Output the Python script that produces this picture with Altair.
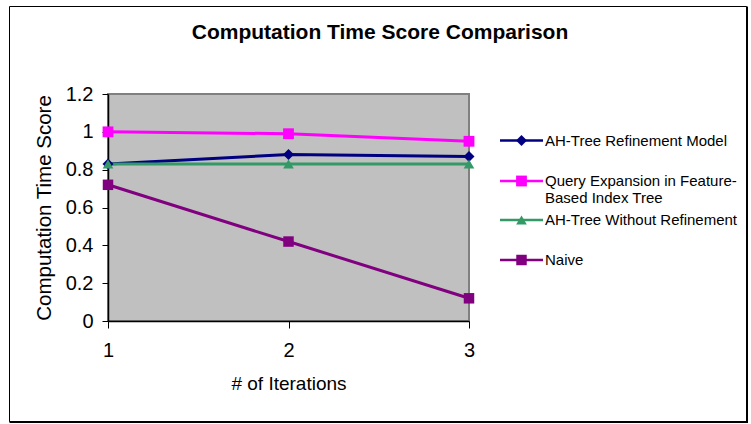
import altair as alt
import pandas as pd

# Data
iterations = [1, 2, 3]
series = [
    "AH-Tree Refinement Model",
    "Query Expansion in Feature-Based Index Tree",
    "AH-Tree Without Refinement",
    "Naive",
]
refinement_model = [0.83, 0.88, 0.87]
query_expansion = [1.00, 0.99, 0.95]
without_refinement = [0.83, 0.83, 0.83]
naive = [0.72, 0.42, 0.12]
legend_labels = [
    ["AH-Tree Refinement Model"],
    ["Query Expansion in Feature-", "Based Index Tree"],
    ["AH-Tree Without Refinement"],
    ["Naive"],
]
y_ticks = [0, 0.2, 0.4, 0.6, 0.8, 1.0, 1.2]

colors = ["#000080", "#FF00FF", "#339966", "#800080"]
shapes = ["diamond", "square", "triangle-up", "square"]
sizes = [120, 110, 150, 260]
FONT = "Liberation Sans"

W, H = 361, 227
PAD = {"left": 108, "top": 94, "right": 751 - 108 - W, "bottom": 424 - 94 - H}

rows = []
for name, vals in zip(series, [refinement_model, query_expansion, without_refinement, naive]):
    for it, v in zip(iterations, vals):
        rows.append({"series": name, "iteration": it, "score": v})
df = pd.DataFrame(rows)

color_scale = alt.Scale(domain=series, range=colors)
shape_scale = alt.Scale(domain=series, range=shapes)
size_scale = alt.Scale(domain=series, range=sizes)

# Iterations sit on a point scale: first and last category on the plot edges
x_enc = alt.X(
    "iteration:O",
    scale=alt.Scale(type="point", domain=iterations, padding=0),
    axis=alt.Axis(
        title="# of Iterations", labelAngle=0,
        titleX=W / 2, titleY=62, titleBaseline="middle", titleFontSize=19,
        labelPadding=12, tickSize=7, labelOverlap=False, labelFlush=False,
    ),
)
y_enc = alt.Y(
    "score:Q",
    scale=alt.Scale(domain=[0, 1.2], nice=False),
    axis=alt.Axis(
        values=y_ticks, format="~g", title="Computation Time Score",
        titleX=-64, titleY=H / 2, titleAngle=-90, titleAlign="center",
        titleBaseline="middle", titleFontSize=20.5,
        labelPadding=9, tickSize=6, labelOverlap=False, labelFlush=False,
    ),
)

lines = alt.Chart(df).mark_line(strokeWidth=3).encode(
    x=x_enc, y=y_enc,
    color=alt.Color("series:N", scale=color_scale, legend=None),
    detail="series:N",
)
points = alt.Chart(df).mark_point(filled=True, opacity=1).encode(
    x=x_enc, y=y_enc,
    color=alt.Color("series:N", scale=color_scale, legend=None),
    shape=alt.Shape("series:N", scale=shape_scale, legend=None),
    size=alt.Size("series:N", scale=size_scale, legend=None),
)

# Hand-drawn legend to the right of the plot
leg_rows_y = [46.5, 87, 126, 166]
leg = pd.DataFrame({
    "series": series,
    "ly": leg_rows_y,
    "label": legend_labels,
})
leg_lines = alt.Chart(leg).mark_rule(strokeWidth=2.5).encode(
    x=alt.value(392), x2=alt.value(435),
    y=alt.Y("ly:Q", scale=None),
    color=alt.Color("series:N", scale=color_scale, legend=None),
)
leg_points = alt.Chart(leg).mark_point(filled=True, opacity=1).encode(
    x=alt.value(413.5),
    y=alt.Y("ly:Q", scale=None),
    color=alt.Color("series:N", scale=color_scale, legend=None),
    shape=alt.Shape("series:N", scale=shape_scale, legend=None),
    size=alt.Size("series:N", scale=size_scale, legend=None),
)
leg_text = alt.Chart(leg).mark_text(
    align="left", baseline="middle", font=FONT, fontSize=15, color="black",
    lineHeight=17,
).encode(
    x=alt.value(437),
    y=alt.Y("ly:Q", scale=None),
    text="label",
)

one = alt.Data(values=[{"t": "Computation Time Score Comparison"}])
title = alt.Chart(one).mark_text(
    font=FONT, fontSize=21, fontWeight="bold", color="black",
    align="center", baseline="middle",
).encode(x=alt.value(272), y=alt.value(-61), text="t:N")

frame = alt.Chart(one).mark_rect(fillOpacity=0, stroke="black", strokeWidth=1).encode(
    x=alt.value(-98.5), x2=alt.value(638.5), y=alt.value(-87.5), y2=alt.value(327.5)
)
shadow_r = alt.Chart(one).mark_rule(stroke="black", strokeWidth=2).encode(
    x=alt.value(639), y=alt.value(-87.5), y2=alt.value(328)
)
shadow_b = alt.Chart(one).mark_rule(stroke="black", strokeWidth=2).encode(
    x=alt.value(-98.5), x2=alt.value(640), y=alt.value(328)
)

chart = alt.layer(
    frame, shadow_r, shadow_b, title, lines, points, leg_lines, leg_points, leg_text
).properties(
    width=W, height=H,
    autosize=alt.AutoSizeParams(type="none"),
    padding=PAD,
    background="white",
).configure_view(
    fill="#C0C0C0", stroke="#808080", strokeWidth=2,
).configure_axis(
    grid=False, domainColor="black", tickColor="black", domainWidth=1.5,
    labelFont=FONT, labelFontSize=20, labelColor="black",
    titleFont=FONT, titleFontWeight="normal", titleColor="black",
)

chart.save("out.html", embed_options={"renderer": "svg", "actions": False})
